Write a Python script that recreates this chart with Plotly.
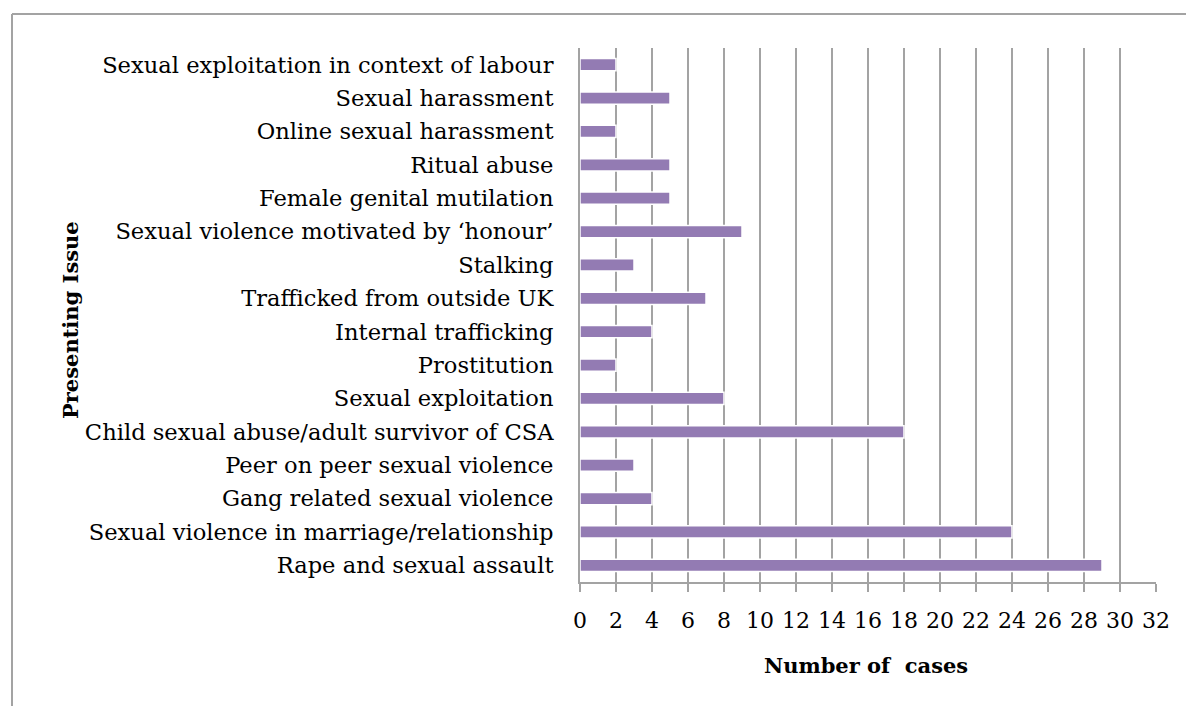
import plotly.graph_objects as go

categories = [
    "Rape and sexual assault",
    "Sexual violence in marriage/relationship",
    "Gang related sexual violence",
    "Peer on peer sexual violence",
    "Child sexual abuse/adult survivor of CSA",
    "Sexual exploitation",
    "Prostitution",
    "Internal trafficking",
    "Trafficked from outside UK",
    "Stalking",
    "Sexual violence motivated by \u2018honour\u2019",
    "Female genital mutilation",
    "Ritual abuse",
    "Online sexual harassment",
    "Sexual harassment",
    "Sexual exploitation in context of labour",
]
cases = [29, 24, 4, 3, 18, 8, 2, 4, 7, 3, 9, 5, 5, 2, 5, 2]
x_ticks = list(range(0, 33, 2))

W, H = 1186, 706
L, R, T, B = 580, 30, 48, 124
pw, ph = W - L - R, H - T - B

FONT = "DejaVu Serif"
GRID = "#a3a3a3"

fig = go.Figure()
fig.add_trace(go.Bar(
    y=categories, x=cases, orientation="h",
    marker=dict(color="#937BB3", line=dict(color="white", width=1.5)),
    width=0.37,
    hoverinfo="x+y",
))

fig.update_layout(
    width=W, height=H,
    margin=dict(l=L, r=R, t=T, b=B, autoexpand=False),
    paper_bgcolor="white", plot_bgcolor="white",
    showlegend=False,
    font=dict(family=FONT, color="black", size=22),
    xaxis=dict(
        range=[0, 32], tickvals=x_ticks, ticktext=[str(v) for v in x_ticks],
        showgrid=True, gridcolor=GRID, gridwidth=2,
        showline=True, linecolor=GRID, linewidth=2,
        ticks="outside", ticklen=8, tickcolor=GRID, tickwidth=2,
        ticklabelstandoff=10,
        tickfont=dict(family=FONT, size=22), zeroline=False,
        fixedrange=True,
    ),
    yaxis=dict(
        categoryorder="array", categoryarray=categories,
        range=[-0.5, len(categories) - 0.5],
        showgrid=False, showline=True, linecolor=GRID, linewidth=2,
        ticks="", ticklabelstandoff=20,
        tickfont=dict(family=FONT, size=22.6),
        fixedrange=True,
    ),
    annotations=[
        dict(text="<b>Number of  cases</b>", xref="paper", yref="paper",
             x=(866 - L) / pw, y=-(665 - (T + ph)) / ph, showarrow=False,
             font=dict(family=FONT, size=21), xanchor="center", yanchor="middle"),
        dict(text="<b>Presenting Issue</b>", xref="paper", yref="paper",
             x=(70 - L) / pw, y=(T + ph - 320) / ph, showarrow=False, textangle=-90,
             font=dict(family=FONT, size=21), xanchor="center", yanchor="middle"),
    ],
    shapes=[
        dict(type="line", xref="paper", yref="paper",
             x0=(12 - L) / pw, x1=(W + 5 - L) / pw,
             y0=(T + ph - 14) / ph, y1=(T + ph - 14) / ph,
             line=dict(color=GRID, width=2)),
        dict(type="line", xref="paper", yref="paper",
             x0=(12 - L) / pw, x1=(12 - L) / pw,
             y0=(T + ph - 14) / ph, y1=(T + ph - H - 5) / ph,
             line=dict(color=GRID, width=2)),
    ],
)

fig.write_html("out.html", config={"displayModeBar": False},
               post_script="document.body.style.margin='0';document.body.style.overflow='hidden';")
